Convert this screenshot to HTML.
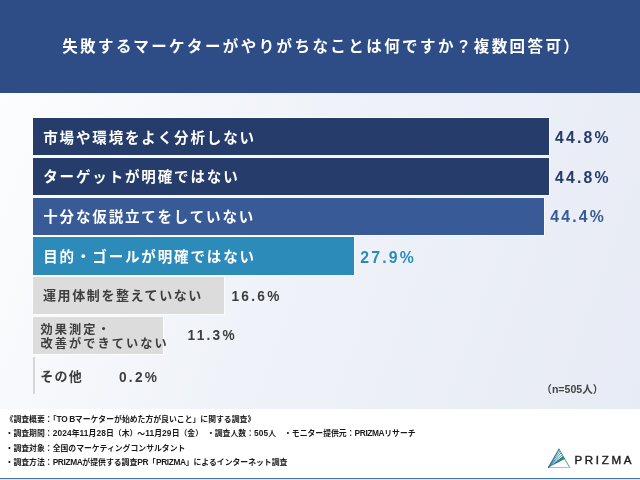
<!DOCTYPE html>
<html lang="ja">
<head>
<meta charset="utf-8">
<title>失敗するマーケターがやりがちなことは何ですか？</title>
<style>
  html, body { margin: 0; padding: 0; }
  body {
    width: 640px; height: 480px; overflow: hidden; position: relative;
    background: #ffffff;
    font-family: "Liberation Sans", "Noto Sans CJK JP", sans-serif;
  }
  .abs { position: absolute; }
  #header {
    left: 0; top: 0; width: 640px; height: 92.5px;
    background: #2e4c86;
  }
  #title {
    left: 62.2px; top: 33.3px; white-space: nowrap;
    color: #fff; font-weight: 700; font-size: 15.5px; line-height: 28px;
    letter-spacing: 2.42px;
  }
  #chart {
    left: 0; top: 92.5px; width: 640px; height: 316.5px;
    background: linear-gradient(110deg, #fcfdfe 0%, #eff2f8 45%, #e7ebf5 100%);
  }
  .bar {
    position: absolute; left: 33.3px; height: 37.25px;
    box-shadow: 0 0 0 0.8px rgba(255,255,255,.85);
  }
  .lbl {
    position: absolute; left: 43.2px; white-space: nowrap;
    font-weight: 700; font-size: 14.5px; line-height: 20px; letter-spacing: 1.86px;
    color: #fff;
  }
  .lbl.g { color: #3e3e3e; font-size: 13px; letter-spacing: 1.6px; font-weight: 700; }
  .val {
    position: absolute; white-space: nowrap;
    font-weight: 700; font-size: 15.8px; line-height: 20px; letter-spacing: 2.2px;
    transform: scaleY(1.08); transform-origin: 0 70%;
  }
  .val.g { color: #3e3e3e; font-size: 13.7px; letter-spacing: 2.25px; }
  #note {
    left: 541.3px; top: 380px; white-space: nowrap;
    font-size: 10.6px; line-height: 18px; font-weight: 700; color: #444;
  }
  #footer { left: 0; top: 409px; width: 640px; height: 71px; background: #fff; }
  .fl {
    position: absolute; left: 5.6px; white-space: nowrap;
    font-size: 7.85px; line-height: 14px; font-weight: 700; color: #1a1a1a;
  }
  .fl .l { font-size: 8.35px; line-height: 0; letter-spacing: -0.38px; }
  .fl .d { font-size: 8.35px; line-height: 0; letter-spacing: 0.12px; }
  #line { left: 0; top: 477.6px; width: 640px; height: 1.6px; background: #4a76ae; }
  #line2 { left: 0; top: 479.2px; width: 640px; height: 0.8px; background: #dde5f3; }
  #brand {
    left: 574.4px; top: 449.9px; white-space: nowrap;
    font-size: 11.6px; line-height: 20px; font-weight: 400; letter-spacing: 2.66px; color: #1c1c1c;
    -webkit-text-stroke: 0.4px #1c1c1c;
  }
</style>
</head>
<body>
  <div id="header" class="abs"></div>
  <div id="title" class="abs">失敗するマーケターがやりがちなことは何ですか？複数回答可）</div>

  <div id="chart" class="abs"></div>

  <div class="bar" style="top:118px;   width:515.5px; background:#263d6b;"></div>
  <div class="bar" style="top:157.75px;width:515.5px; background:#263d6b;"></div>
  <div class="bar" style="top:197.5px; width:511px;   background:#385b98;"></div>
  <div class="bar" style="top:237.25px;width:321.2px; background:#2d8bba;"></div>
  <div class="bar" style="top:277px;   width:190.6px; background:#dcdcdc;"></div>
  <div class="bar" style="top:316.75px;width:129.5px; background:#dcdcdc;"></div>
  <div class="bar" style="top:356.5px; width:2px;     background:#d6d6d6; box-shadow:none;"></div>

  <div class="lbl" style="top:128px;">市場や環境をよく分析しない</div>
  <div class="lbl" style="top:167.4px;">ターゲットが明確ではない</div>
  <div class="lbl" style="top:206.6px;">十分な仮説立てをしていない</div>
  <div class="lbl" style="top:247.25px;">目的・ゴールが明確ではない</div>
  <div class="lbl g" style="top:286px; left:43px;">運用体制を整えていない</div>
  <div class="lbl g" style="top:323.1px; left:40.5px; line-height:14.2px; font-size:12.2px; letter-spacing:2.05px;">効果測定・<br>改善ができていない</div>
  <div class="lbl g" style="top:367px; left:40.2px; letter-spacing:1.3px;">その他</div>

  <div class="val" style="left:555px; top:128.2px; color:#263d6b;">44.8%</div>
  <div class="val" style="left:555px; top:167.9px;   color:#263d6b;">44.8%</div>
  <div class="val" style="left:550.3px; top:207px;   color:#385b98;">44.4%</div>
  <div class="val" style="left:360.3px; top:248.2px; color:#2d8bba;">27.9%</div>
  <div class="val g" style="left:231.5px; top:287px;">16.6%</div>
  <div class="val g" style="left:187.6px; top:326.3px;">11.3%</div>
  <div class="val g" style="left:119px; top:368px;">0.2%</div>

  <div id="note" class="abs">（n=505人）</div>

  <div id="footer" class="abs">
    <div class="fl" style="top:3.5px;">《調査概要：「<span class="l">TO B</span>マーケターが始めた方が良いこと」に関する調査》</div>
    <div class="fl" style="top:18px;">・調査期間：<span class="d">2024</span>年<span class="d">11</span>月<span class="d">28</span>日（木）～<span class="d">11</span>月<span class="d">29</span>日（金）　・調査人数：<span class="d">505</span>人　・モニター提供元：<span class="l">PRIZMA</span>リサーチ</div>
    <div class="fl" style="top:32.5px;">・調査対象：全国のマーケティングコンサルタント</div>
    <div class="fl" style="top:46.5px;">・調査方法：<span class="l">PRIZMA</span>が提供する調査<span class="l">PR</span>「<span class="l">PRIZMA</span>」によるインターネット調査</div>
  </div>

  <svg class="abs" style="left:544px; top:444px;" width="32" height="28" viewBox="544 444 32 28">
    <defs>
      <linearGradient id="lg" x1="548" y1="0" x2="570" y2="0" gradientUnits="userSpaceOnUse">
        <stop offset="0" stop-color="#2a70a4"/>
        <stop offset="0.5" stop-color="#2a7f93"/>
        <stop offset="0.75" stop-color="#2a8b6e"/>
        <stop offset="1" stop-color="#3fb45f"/>
      </linearGradient>
    </defs>
    <path d="M548.4 467.5 L562.96 455.97 L564.78 459.08 Z" fill="url(#lg)"/>
    <g fill="none" stroke="url(#lg)" stroke-width="0.8" stroke-linejoin="round" stroke-linecap="butt">
      <path d="M548.4 467.5 L559.0 449.2" stroke-width="1.2" stroke-linecap="round"/>
      <path d="M559.0 449.2 L569.7 467.5" stroke-width="0.9" stroke-linecap="round"/>
      <path d="M548.4 467.5 L569.7 467.5" stroke-width="0.8" opacity="0.6"/>
      <path d="M548.4 467.5 L560.07 451.03"/> <path d="M548.4 467.5 L561.14 452.86"/> <path d="M548.4 467.5 L562.21 454.69"/>
    </g>
  </svg>
  <div id="brand" class="abs">PRIZMA</div>

  <div id="line" class="abs"></div>
  <div id="line2" class="abs"></div>
</body>
</html>
